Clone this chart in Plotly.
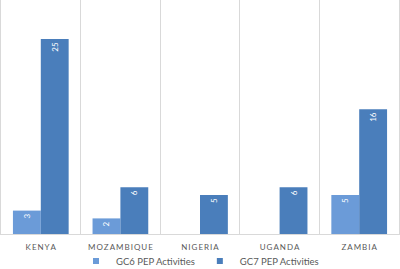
import plotly.graph_objects as go

countries = ["KENYA", "MOZAMBIQUE", "NIGERIA", "UGANDA", "ZAMBIA"]
gc6_values = [3, 2, None, None, 5]
gc7_values = [25, 6, 5, 6, 16]
series_names = ["GC6 PEP Activities", "GC7 PEP Activities"]
colors = ["#6B9BD8", "#4A7EBB"]

def spaced(s):
    return "\u2009".join(list(s))

labels = [spaced(c) for c in countries]

def txt(vals):
    return ["" if v is None else str(v) for v in vals]

fig = go.Figure()
for name, vals, col in zip(series_names, [gc6_values, gc7_values], colors):
    fig.add_trace(go.Bar(
        name=name, x=labels, y=vals, showlegend=False,
        marker=dict(color=col, line=dict(width=0)),
        text=txt(vals), textposition="inside", insidetextanchor="end",
        textangle=-90, textfont=dict(color="white", size=8, family="Lato"),
    ))
for name, col in zip(series_names, colors):
    fig.add_trace(go.Scatter(
        name=name, x=[None], y=[None], mode="markers",
        marker=dict(symbol="square", size=6, color=col), showlegend=True,
    ))

fig.update_layout(
    width=400, height=269,
    margin=dict(l=1, r=1, t=0, b=35, pad=0, autoexpand=False),
    paper_bgcolor="white", plot_bgcolor="white",
    barmode="group", bargap=0.3, bargroupgap=0,
    showlegend=True,
    legend=dict(orientation="h", x=0.5, xanchor="center", yref="container",
                y=0.03, yanchor="middle", bgcolor="rgba(0,0,0,0)",
                font=dict(size=9.5, color="#595959", family="Lato"),
                itemwidth=30, traceorder="normal"),
    xaxis=dict(tickson="boundaries", showgrid=True, gridcolor="#D9D9D9", gridwidth=1,
               showline=True, linecolor="#D9D9D9", ticks="", mirror=False,
               range=[-0.5, 4.5], automargin=False, tickangle=0, ticklabelstandoff=5,
               tickfont=dict(size=8, color="#595959", family="Lato")),
    yaxis=dict(range=[0, 30], showgrid=False, showticklabels=False, zeroline=False,
               showline=True, linecolor="#D9D9D9", mirror=True, automargin=False),
)

fig.write_html("out.html", config={"displayModeBar": False},
               post_script="document.body.style.margin='0';document.body.style.padding='0';")
